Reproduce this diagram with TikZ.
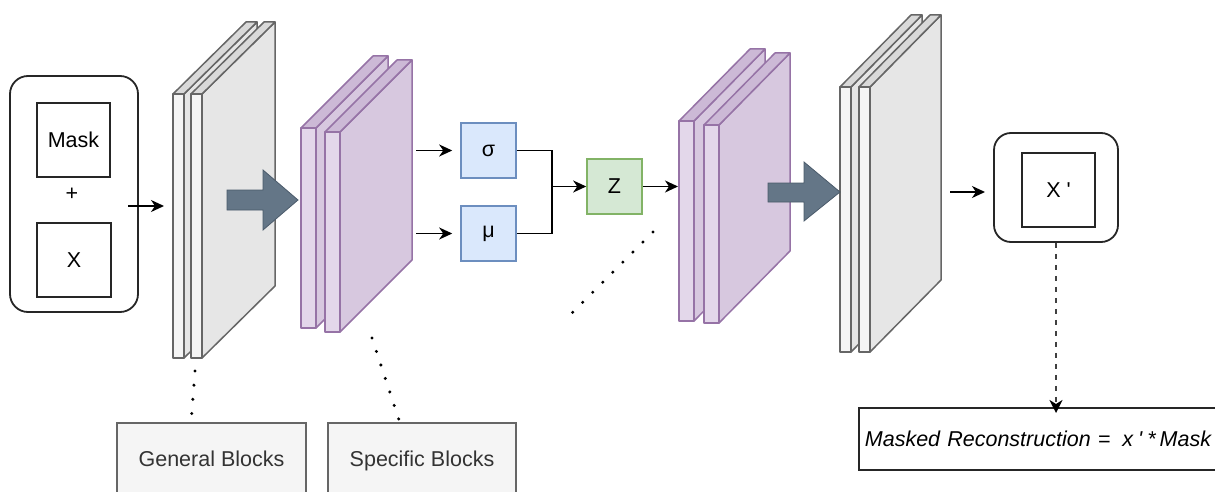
\documentclass[tikz,border=0pt]{standalone}
\usepackage{fontspec}
\setmainfont{Liberation Sans}
\usetikzlibrary{arrows.meta}

\definecolor{gryFront}{HTML}{F5F5F5}
\definecolor{grySide}{HTML}{E6E6E6}
\definecolor{gryTop}{HTML}{D9D9D9}
\definecolor{gryStroke}{HTML}{666666}
\definecolor{prpFront}{HTML}{E3D7EA}
\definecolor{prpSide}{HTML}{D7C8DF}
\definecolor{prpTop}{HTML}{CCB9D6}
\definecolor{prpStroke}{HTML}{9673A6}
\definecolor{blueFill}{HTML}{DAE8FC}
\definecolor{blueStroke}{HTML}{6C8EBF}
\definecolor{greenFill}{HTML}{D5E8D4}
\definecolor{greenStroke}{HTML}{82B366}
\definecolor{slateFill}{HTML}{647687}
\definecolor{slateStroke}{HTML}{4A5A6A}
\definecolor{labelGray}{HTML}{333333}

% one layer slab drawn as a cuboid: x, top y, front width, height, depth dx, palette
\newcommand\layerslab[6]{%
  \draw[#6side] (#1+#3,#2) -- ++(#5,-72) -- ++(0,#4) -- (#1+#3,#2+#4) -- cycle;
  \draw[#6top] (#1,#2) -- ++(#5,-72) -- ++(#3,0) -- (#1+#3,#2) -- cycle;
  \draw[#6front] (#1,#2) rectangle ++(#3,#4);
}

\tikzset{
  gryside/.style={draw=gryStroke, fill=grySide, line width=1.5pt, line join=round},
  grytop/.style={draw=gryStroke, fill=gryTop, line width=1.5pt, line join=round},
  gryfront/.style={draw=gryStroke, fill=gryFront, line width=1.5pt, line join=round},
  prpside/.style={draw=prpStroke, fill=prpSide, line width=1.5pt, line join=round},
  prptop/.style={draw=prpStroke, fill=prpTop, line width=1.5pt, line join=round},
  prpfront/.style={draw=prpStroke, fill=prpFront, line width=1.5pt, line join=round},
  roundbox/.style={draw=black!85, line width=1.8pt, rounded corners=18pt, fill=white},
  innerbox/.style={draw=black!85, line width=1.9pt, fill=white},
  bluebox/.style={draw=blueStroke, fill=blueFill, line width=1.6pt, minimum width=55pt, minimum height=55pt},
  greenbox/.style={draw=greenStroke, fill=greenFill, line width=1.6pt, minimum width=55pt, minimum height=55pt},
  blockbox/.style={draw=gryStroke, fill=gryFront, text=labelGray, line width=1.6pt,
    minimum width=189pt, minimum height=75pt, text height=15.5pt, text depth=4.5pt},
  conn/.style={draw=black, line width=1.8pt, -{Stealth[length=13pt,width=12pt,inset=4pt]}},
  dotline/.style={draw=black, line width=3.4pt, line cap=round, dash pattern=on 0pt off 14.2pt},
  dashconn/.style={draw=black!75, line width=2pt, dash pattern=on 5pt off 6pt,
    -{Stealth[length=13pt,width=13pt,inset=4pt,black]}},
  bigarrow/.style={fill=slateFill, draw=slateStroke, line width=0.8pt, line join=miter}
}

\begin{document}
\begin{tikzpicture}[x=1pt, y=-1pt,
  every node/.style={font=\fontsize{21.5}{26}\selectfont, inner sep=0pt}]
\useasboundingbox (0,0) rectangle (1215,492);
\clip (0,0) rectangle (1215,492);

% input: mask + image
\node[roundbox, minimum width=128pt, minimum height=236pt] (inbox) at (74,194) {};
\node[innerbox, minimum width=73pt, minimum height=74pt] (mask) at (73.5,140) {Mask};
\node (plus) at (72,194) {+};
\node[innerbox, minimum width=74pt, minimum height=74pt] (xin) at (74,260) {X};

% general encoder layers
\layerslab{173}{94}{11}{264}{73}{gry}
\layerslab{191}{94}{11}{264}{73}{gry}
\coordinate (inarrow) at (128,206);
\coordinate (genin) at (164,206);
\draw[conn] (inarrow) -- (genin);

% specific encoder layers
\layerslab{301}{128}{15}{200}{72}{prp}
\layerslab{325}{132}{15}{200}{72}{prp}
\draw[bigarrow] (227,190) -- (263,190) -- (263,170) -- (298,200) -- (263,230) -- (263,210) -- (227,210) -- cycle;

% latent distribution
\node[bluebox] (sigma) at (488.5,150.5) {σ};
\node[bluebox] (mu) at (488.5,233.5) {μ};
\node[greenbox] (z) at (614.5,186.5) {Z};
\coordinate (sigin) at (416,150.5);
\coordinate (muin) at (416,233.5);
\draw[conn] (sigin) -- ([xshift=-8pt]sigma.west);
\draw[conn] (muin) -- ([xshift=-8pt]mu.west);
\coordinate (merge) at (552,186.5);
\draw[line width=1.8pt] (sigma.east) -| (merge) |- (mu.east);
\draw[conn] (merge) -- (z.west);

% decoder layers
\layerslab{679}{121}{15}{200}{71}{prp}
\layerslab{704}{125}{15}{198}{71}{prp}
\coordinate (decin) at (678,186.5);
\draw[conn] (z.east) -- (decin);
\layerslab{840}{87}{11}{265}{71}{gry}
\layerslab{859}{87}{11}{265}{71}{gry}
\draw[bigarrow] (768,183) -- (804,183) -- (804,162) -- (840,192) -- (804,221) -- (804,202) -- (768,202) -- cycle;

% output
\node[roundbox, rounded corners=17pt, minimum width=124pt, minimum height=109pt] (outbox) at (1056,187.5) {};
\node[innerbox, minimum width=73pt, minimum height=74pt] (xout) at (1058.5,190) {X \textquotesingle};
\coordinate (decout) at (950,192);
\coordinate (outin) at (985,192);
\draw[conn] (decout) -- (outin);

\node[draw=black!85, line width=1.8pt, fill=white, anchor=north west,
  minimum height=62pt, text width=370pt, inner xsep=6pt, align=left] (recon) at (858,407)
  {\textit{Masked Reconstruction =\hspace{12pt}x\hspace{5pt}\textquotesingle\hspace{5pt}*\hspace{4pt}Mask}};
\draw[dashconn] (outbox.south) -- ([yshift=-6pt]outbox.south |- recon.north);

% block legends
\node[blockbox] (general) at (211.5,460.5) {General Blocks};
\node[blockbox, minimum width=188pt] (specific) at (422,460.5) {Specific Blocks};
\coordinate (gentop) at (195,371);
\coordinate (genlabel) at (191,423);
\draw[dotline] (gentop) -- (genlabel);
\coordinate (spectop) at (372,338);
\coordinate (speclabel) at (400,423);
\draw[dotline] (spectop) -- (speclabel);
\coordinate (zdots) at (653,232);
\coordinate (zdotsend) at (571,314);
\draw[dotline] (zdots) -- (zdotsend);
\end{tikzpicture}
\end{document}
